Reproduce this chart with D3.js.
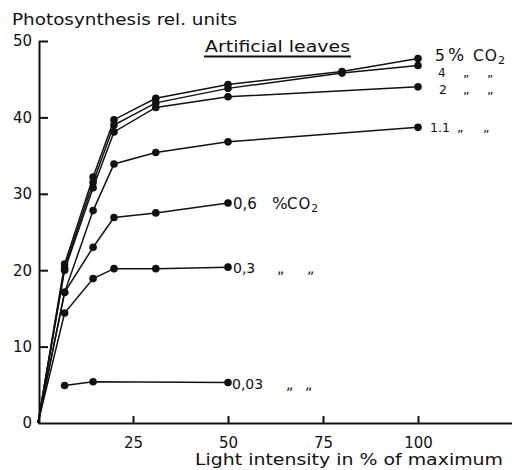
<!DOCTYPE html>
<html>
<head>
<meta charset="utf-8">
<script src="https://cdn.jsdelivr.net/npm/d3@7"></script>
<style>
  html, body { margin: 0; padding: 0; background: #fff; }
  svg { display: block; }
  text { font-family: "DejaVu Sans", "Liberation Sans", sans-serif; fill: #111; }
</style>
</head>
<body>
<svg id="chart" width="512" height="470"></svg>
<script>
// ---- data ----
const xTicks = [25, 50, 75, 100];
const yTicks = [0, 10, 20, 30, 40, 50];

const x5  = [0, 7, 14.5, 20, 31, 50, 80, 100];
const y5  = [0, 20.8, 32.2, 39.7, 42.5, 44.3, 46.0, 47.7];
const x4  = [0, 7, 14.5, 20, 31, 50, 80, 100];
const y4  = [0, 20.3, 31.5, 39.0, 41.9, 43.8, 45.8, 46.8];
const x2  = [0, 7, 14.5, 20, 31, 50, 100];
const y2  = [0, 20.0, 30.8, 38.1, 41.3, 42.7, 44.0];
const x11 = [0, 7, 14.5, 20, 31, 50, 100];
const y11 = [0, 17.1, 27.8, 33.9, 35.4, 36.8, 38.7];
const x06 = [0, 7, 14.5, 20, 31, 50];
const y06 = [0, 17.1, 23.0, 26.9, 27.5, 28.8];
const x03 = [0, 7, 14.5, 20, 31, 50];
const y03 = [0, 14.4, 18.9, 20.2, 20.2, 20.4];
const x003 = [7, 14.5, 50];
const y003 = [4.9, 5.4, 5.3];

const D = "\u201E";
const seriesLabels = [
  ["5", "%", "CO"],
  ["4", D, D],
  ["2", D, D],
  ["1.1", D, D],
  ["0,6", "%", "CO"],
  ["0,3", D, D],
  ["0,03", D, D]
];
const seriesX = [x5, x4, x2, x11, x06, x03, x003];
const seriesY = [y5, y4, y2, y11, y06, y03, y003];

// ---- layout / style ----
const labelStyle = [
  {offs: [17, 30, 55], dy: 2, size: 15.5, sub: true},
  {offs: [20, 45, 69], dy: 11.5, size: 12},
  {offs: [21, 45, 69], dy: 7, size: 12.5},
  {offs: [12, 39, 65], dy: 5, size: 12.5},
  {offs: [5, 44, 59], dy: 6, size: 15, sub: true},
  {offs: [5, 49, 79], dy: 6, size: 14},
  {offs: [4, 58, 77], dy: 6, size: 14}
];

const svg = d3.select("#chart");
const x = d3.scaleLinear().domain([0, 125]).range([38, 513]);
const y = d3.scaleLinear().domain([0, 50]).range([423, 41]);

// axes
const xAxis = d3.axisBottom(x).tickValues(xTicks).tickSize(-7).tickPadding(14).tickSizeOuter(0);
const gx = svg.append("g").attr("transform", `translate(0,${y(0)})`).call(xAxis);
gx.select(".domain").attr("stroke", "#111").attr("stroke-width", 2);
gx.selectAll(".tick line").attr("stroke", "#111").attr("stroke-width", 2);
gx.selectAll(".tick text").attr("font-size", 15).attr("fill", "#111")
  .style("font-family", "DejaVu Sans, sans-serif");

const yAxis = d3.axisLeft(y).tickValues(yTicks).tickSize(-9).tickPadding(7).tickSizeOuter(0);
const gy = svg.append("g").attr("transform", `translate(${x(0) + 1},0)`).call(yAxis);
gy.select(".domain").attr("stroke", "#111").attr("stroke-width", 2);
gy.selectAll(".tick line").attr("stroke", "#111").attr("stroke-width", 2)
  .attr("opacity", d => d === 0 ? 0 : 1);
gy.selectAll(".tick text").attr("font-size", 15).attr("fill", "#111")
  .style("font-family", "DejaVu Sans, sans-serif");

// lines
const line = d3.line().x(d => x(d[0])).y(d => y(d[1]));
seriesX.forEach((xs, i) => {
  const pts = xs.map((v, j) => [v, seriesY[i][j]]);
  svg.append("path").datum(pts).attr("d", line)
    .attr("fill", "none").attr("stroke", "#111").attr("stroke-width", 1.5);
  svg.append("g").selectAll("circle").data(pts.filter(p => p[0] > 0)).join("circle")
    .attr("cx", d => x(d[0])).attr("cy", d => y(d[1])).attr("r", 3.8).attr("fill", "#111");
  const last = pts[pts.length - 1];
  const st = labelStyle[i];
  const bx = x(last[0]), by = y(last[1]) + st.dy;
  const t = svg.append("text").attr("y", by).attr("font-size", st.size);
  seriesLabels[i].forEach((part, k) => {
    t.append("tspan").attr("x", bx + st.offs[k]).attr("y", by)
      .attr("font-size", part === "%" ? st.size * 1.1 : st.size)
      .attr("letter-spacing", part === "CO" ? 1 : 0).text(part);
  });
  if (st.sub) {
    t.append("tspan").attr("dy", 3).attr("font-size", st.size * 0.72).text("2");
  }
});

// titles
svg.append("text").attr("x", 12).attr("y", 25).attr("font-size", 15.5)
  .attr("textLength", 225).attr("lengthAdjust", "spacingAndGlyphs")
  .text("Photosynthesis rel. units");
svg.append("text").attr("x", 205).attr("y", 52).attr("font-size", 15.5)
  .attr("textLength", 145).attr("lengthAdjust", "spacingAndGlyphs")
  .text("Artificial leaves");
svg.append("line").attr("x1", 204).attr("x2", 351).attr("y1", 56.5).attr("y2", 56.5)
  .attr("stroke", "#111").attr("stroke-width", 2);
svg.append("text").attr("x", 195).attr("y", 465).attr("font-size", 15.5)
  .attr("textLength", 308).attr("lengthAdjust", "spacingAndGlyphs")
  .text("Light intensity in % of maximum");
</script>
</body>
</html>
